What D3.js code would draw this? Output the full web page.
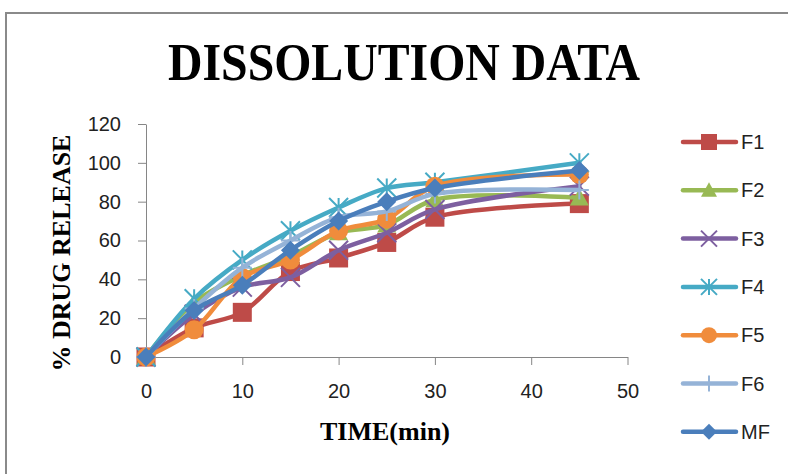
<!DOCTYPE html>
<html><head><meta charset="utf-8">
<script src="https://cdn.jsdelivr.net/npm/d3@7"></script>
<style>body{margin:0;background:#fff;} svg{display:block;}</style>
</head><body>
<script>
const time = [0,5,10,15,20,25,30,45];
const F1 = [0,15,23,44,51,59,72,79];
const F2 = [0,28,42,52,64,68,81,82];
const F3 = [0,22,36,41,55,64,76,88];
const F4 = [0,30,50,65,77,87,90,100];
const F5 = [0,14,41,50,65,71,88,94];
const F6 = [0,25,46,60,72,75,84,86];
const MF = [0,24,37,55,70,80,87,96];
const seriesNames = ["F1","F2","F3","F4","F5","F6","MF"];
const seriesValues = [F1,F2,F3,F4,F5,F6,MF];
const colors = ["#BE4B48","#98B954","#7D5FA0","#46AAC5","#F08C3C","#95B3D7","#4A7EBB"];
const markers = ["square","triangle","x","star","circle","plus","diamond"];
const xTicks = [0,10,20,30,40,50];
const yTicks = [0,20,40,60,80,100,120];

const W = 788, H = 474;
const svg = d3.select("body").append("svg").attr("width",W).attr("height",H);
svg.append("rect").attr("x",6).attr("y",13).attr("width",W+20).attr("height",H+20)
  .attr("fill","#fff").attr("stroke","#8a8a8a").attr("stroke-width",2);

const x = d3.scaleLinear().domain([0,50]).range([146,627.5]);
const y = d3.scaleLinear().domain([0,120]).range([357,124]);

svg.append("text").attr("x",404).attr("y",80).attr("text-anchor","middle")
  .attr("font-family","Liberation Serif, Times New Roman, serif").attr("font-weight","bold")
  .attr("font-size",52).attr("textLength",472).attr("lengthAdjust","spacingAndGlyphs")
  .text("DISSOLUTION DATA");

const gx = svg.append("g").attr("transform","translate(0,357)")
  .call(d3.axisBottom(x).tickValues(xTicks).tickSize(8).tickSizeOuter(0).tickPadding(19));
const gy = svg.append("g").attr("transform","translate(146,0)")
  .call(d3.axisLeft(y).tickValues(yTicks).tickSize(8).tickSizeOuter(0).tickPadding(17));
[gx,gy].forEach(g=>{
  g.selectAll("path,line").attr("stroke","#868686");
  g.selectAll("text").attr("font-family","Liberation Sans, Arial, sans-serif").attr("font-size",20).attr("fill","#222");
});

svg.append("text").attr("x",385).attr("y",440).attr("text-anchor","middle")
  .attr("font-family","Liberation Serif, Times New Roman, serif").attr("font-weight","bold")
  .attr("font-size",26).text("TIME(min)");
svg.append("text").attr("transform","translate(70,253) rotate(-90)").attr("text-anchor","middle")
  .attr("font-family","Liberation Serif, Times New Roman, serif").attr("font-weight","bold")
  .attr("font-size",26).text("% DRUG RELEASE");

function drawMarker(g, type, cx, cy, color, s){
  const h = s/2;
  if(type==="square") g.append("rect").attr("x",cx-h).attr("y",cy-h).attr("width",s).attr("height",s).attr("fill",color);
  else if(type==="triangle") g.append("path").attr("d",`M${cx},${cy-h}L${cx+h},${cy+h*0.8}L${cx-h},${cy+h*0.8}Z`).attr("fill",color);
  else if(type==="circle") g.append("circle").attr("cx",cx).attr("cy",cy).attr("r",h).attr("fill",color);
  else if(type==="diamond") g.append("path").attr("d",`M${cx},${cy-h}L${cx+h},${cy}L${cx},${cy+h}L${cx-h},${cy}Z`).attr("fill",color);
  else if(type==="x") g.append("path").attr("d",`M${cx-h},${cy-h}L${cx+h},${cy+h}M${cx-h},${cy+h}L${cx+h},${cy-h}`).attr("stroke",color).attr("stroke-width",2);
  else if(type==="star") g.append("path").attr("d",`M${cx-h},${cy-h}L${cx+h},${cy+h}M${cx-h},${cy+h}L${cx+h},${cy-h}M${cx},${cy-h}L${cx},${cy+h}`).attr("stroke",color).attr("stroke-width",2);
  else if(type==="plus") g.append("path").attr("d",`M${cx-h},${cy}L${cx+h},${cy}M${cx},${cy-h}L${cx},${cy+h}`).attr("stroke",color).attr("stroke-width",2);
}

const line = d3.line().x(d=>x(d[0])).y(d=>y(d[1])).curve(d3.curveCatmullRom.alpha(0.5));
seriesValues.forEach((vals,i)=>{
  const g = svg.append("g");
  const pts = time.map((t,j)=>[t,vals[j]]);
  g.append("path").attr("d",line(pts)).attr("fill","none").attr("stroke",colors[i])
    .attr("stroke-width",4.5).attr("stroke-linejoin","round").attr("stroke-linecap","round");
  pts.forEach(p=>drawMarker(g, markers[i], x(p[0]), y(p[1]), colors[i], 19));
});

const lg = svg.append("g");
seriesNames.forEach((n,i)=>{
  const cy = 142 + i*48.3;
  lg.append("line").attr("x1",683).attr("x2",736).attr("y1",cy).attr("y2",cy)
    .attr("stroke",colors[i]).attr("stroke-width",4.5).attr("stroke-linecap","round");
  drawMarker(lg, markers[i], 709, cy, colors[i], 16);
  lg.append("text").attr("x",741).attr("y",cy).attr("dy","0.35em")
    .attr("font-family","Liberation Sans, Arial, sans-serif").attr("font-size",20).attr("fill","#222").text(n);
});
</script>
</body></html>
